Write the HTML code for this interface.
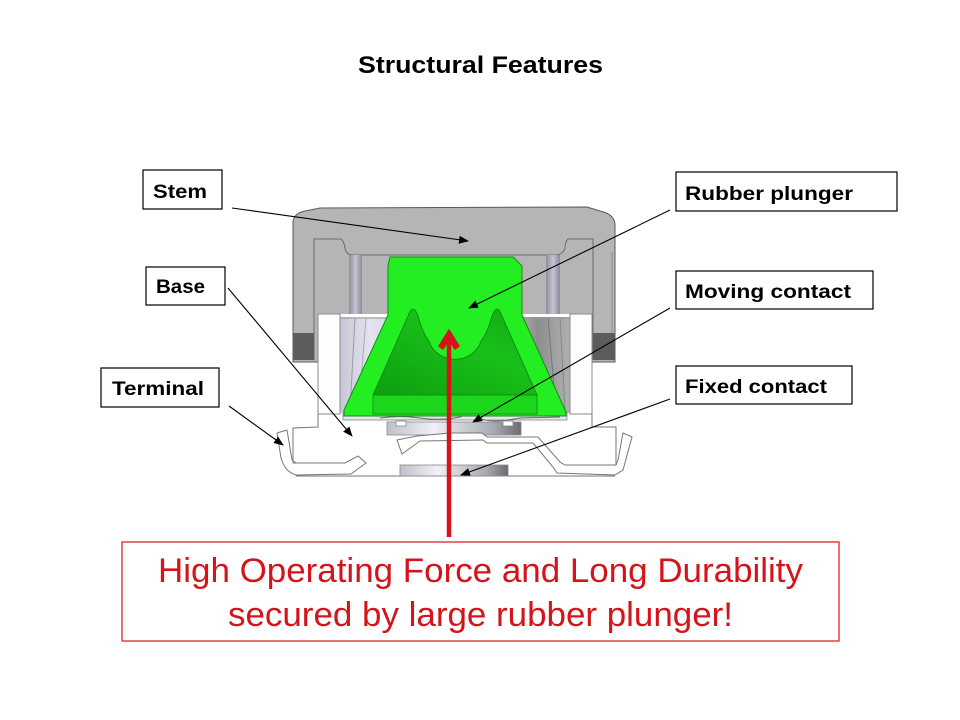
<!DOCTYPE html>
<html>
<head>
<meta charset="utf-8">
<style>
html,body{margin:0;padding:0;background:#fff;}
svg{display:block;}
text{font-family:"Liberation Sans",Arial,sans-serif;}
</style>
</head>
<body>
<svg width="960" height="720" viewBox="0 0 960 720" xmlns="http://www.w3.org/2000/svg">
<defs>
  <marker id="ah" markerWidth="10" markerHeight="8" refX="9" refY="4" orient="auto" markerUnits="userSpaceOnUse">
    <path d="M0,0 L10,4 L0,8 Z" fill="#000"/>
  </marker>
  <linearGradient id="post" x1="0" x2="1" y1="0" y2="0">
    <stop offset="0" stop-color="#8c8c9a"/>
    <stop offset="0.5" stop-color="#c4c4d2"/>
    <stop offset="1" stop-color="#8a8a98"/>
  </linearGradient>
  <linearGradient id="lav" x1="0" x2="1" y1="0" y2="0">
    <stop offset="0" stop-color="#c6c6d8"/>
    <stop offset="0.5" stop-color="#e4e4f0"/>
    <stop offset="1" stop-color="#d2d2e2"/>
  </linearGradient>
  <linearGradient id="rgray" x1="0" x2="1" y1="0" y2="0">
    <stop offset="0" stop-color="#c8c8c8"/>
    <stop offset="0.5" stop-color="#8e8e8e"/>
    <stop offset="1" stop-color="#b0b0b0"/>
  </linearGradient>
  <linearGradient id="cyl" x1="0" x2="1" y1="0" y2="0">
    <stop offset="0" stop-color="#c0c0cc"/>
    <stop offset="0.35" stop-color="#f0f0f6"/>
    <stop offset="0.8" stop-color="#a8a8b0"/>
    <stop offset="1" stop-color="#6a6a70"/>
  </linearGradient>
  <linearGradient id="cone" x1="0" x2="1" y1="1" y2="0">
    <stop offset="0" stop-color="#0f9e0f"/>
    <stop offset="0.6" stop-color="#18c018"/>
    <stop offset="1" stop-color="#12a812"/>
  </linearGradient>
</defs>

<!-- Title -->
<text x="358" y="73" font-size="24" font-weight="bold" fill="#000" textLength="245" lengthAdjust="spacingAndGlyphs">Structural Features</text>

<!-- Stem / cap gray area -->
<path d="M293,362 L293,222 Q294,213 305,211 L320,208 L587,207 L600,211 Q614,214 615,224 L615,362 Z" fill="#b5b5b5" stroke="#5a5a5a" stroke-width="1"/>
<!-- inner cap lines -->
<path d="M314,360 L314,239 L341,239 Q344,241 345,248 Q346,255 353,255 L555,255 Q563,255 565,248 Q565,242 568,239 L593,239 L593,360" fill="none" stroke="#6a6a6a" stroke-width="1"/>
<line x1="612" y1="252" x2="612" y2="360" stroke="#8a8a8a" stroke-width="1"/>
<!-- dark bands -->
<rect x="293" y="333" width="21" height="27" fill="#5c5c5c"/>
<rect x="593" y="333" width="22" height="27" fill="#5c5c5c"/>
<!-- posts -->
<rect x="349" y="255" width="13" height="62" fill="url(#post)"/>
<rect x="546" y="255" width="14" height="62" fill="url(#post)"/>

<!-- Base body -->
<rect x="318" y="314" width="274" height="106" fill="#fff"/>
<!-- inner gray areas -->
<path d="M340,317 L400,317 L345,413 L340,413 Z" fill="url(#lav)"/>
<path d="M505,317 L570,317 L570,413 L565,413 Z" fill="url(#rgray)"/>
<line x1="355" y1="318" x2="350" y2="410" stroke="#9a9aaa" stroke-width="1"/>
<line x1="366" y1="318" x2="361" y2="380" stroke="#a8a8b8" stroke-width="1"/>
<line x1="548" y1="318" x2="556" y2="410" stroke="#777" stroke-width="1"/>
<line x1="560" y1="318" x2="565" y2="410" stroke="#888" stroke-width="1"/>
<!-- base white walls -->
<path d="M318,314 L340,314 L340,414 L318,414 Z" fill="#fdfdfd" stroke="#8a8a8a" stroke-width="1"/>
<path d="M570,314 L592,314 L592,414 L570,414 Z" fill="#fdfdfd" stroke="#8a8a8a" stroke-width="1"/>
<line x1="340" y1="318" x2="570" y2="318" stroke="#999" stroke-width="1"/>

<!-- Base outline lower -->
<path d="M318,414 L318,427 L293,428 L293,463 L345,463 L358,456 L366,463 L351,474 L296,475" fill="none" stroke="#777" stroke-width="1"/>
<path d="M592,414 L592,427 L616,427 L616,465" fill="none" stroke="#777" stroke-width="1"/>
<line x1="296" y1="476" x2="615" y2="476" stroke="#777" stroke-width="1"/>
<!-- left terminal -->
<path d="M277,433 L287,430 L292,460 L296,463" fill="none" stroke="#777" stroke-width="1"/>
<path d="M277,433 L281,458 Q285,472 296,475" fill="none" stroke="#777" stroke-width="1"/>

<!-- plate under plunger -->
<rect x="343" y="413" width="224" height="7" fill="#e6e6ec" stroke="#888" stroke-width="0.8"/>
<path d="M380,418 Q400,415 420,418 T460,417 Q470,412 480,418 T520,418 L560,417" fill="none" stroke="#666" stroke-width="1"/>

<!-- moving contact holder -->
<rect x="387" y="422" width="134" height="13" fill="url(#cyl)" stroke="#888" stroke-width="0.8"/>
<rect x="396" y="421" width="10" height="5" fill="#fff" stroke="#888" stroke-width="0.8"/>
<rect x="503" y="421" width="10" height="5" fill="#fff" stroke="#888" stroke-width="0.8"/>

<!-- moving contact / terminal strip -->
<path d="M397,440 L417,436 L450,433 L482,433 L487,437 L538,437 L560,462 L565,465 L616,465 L618,460 L623,433 L632,437 L623,470 L615,475 L557,473 L553,467 L533,443 L487,443 L483,440 L420,441 L402,454 Z" fill="#fff" stroke="#777" stroke-width="1"/>

<!-- fixed contact -->
<rect x="400" y="465" width="108" height="11" fill="url(#cyl)" stroke="#888" stroke-width="0.8"/>

<!-- Green plunger -->
<path d="M390,257 L513,257 L522,266 L522,315 L566,412 L566,416 L344,416 L344,410 L388,315 L388,266 Z" fill="#22ee22" stroke="#129012" stroke-width="1"/>
<path d="M373,395 L408,316 Q413,302 418,316 Q423,334 429,341 A27,25 0 0 0 481,341 Q487,334 492,316 Q497,302 502,316 L537,395 Z" fill="url(#cone)" stroke="#0c800c" stroke-width="0.8"/>
<rect x="373" y="395" width="164" height="19" fill="#1bd61b" stroke="#0e8a0e" stroke-width="0.8"/>

<!-- Leader lines -->
<g stroke="#000" stroke-width="1.1" fill="none" marker-end="url(#ah)">
  <line x1="232" y1="208" x2="468" y2="241"/>
  <line x1="670" y1="210" x2="469" y2="308"/>
  <line x1="670" y1="308" x2="473" y2="422"/>
  <line x1="670" y1="399" x2="461" y2="475"/>
  <line x1="228" y1="288" x2="352" y2="436"/>
  <line x1="229" y1="406" x2="283" y2="445"/>
</g>

<!-- Red arrow -->
<line x1="449" y1="537" x2="449" y2="340" stroke="#d4141a" stroke-width="4.5"/>
<polygon points="449,330 459,346 455,349 449,340 443,349 439,346" fill="#d4141a" stroke="#d4141a" stroke-width="1.5" stroke-linejoin="round"/>

<!-- Label boxes -->
<g fill="#fff" stroke="#000" stroke-width="1.2">
  <rect x="143" y="170" width="79" height="39"/>
  <rect x="146" y="267" width="79" height="38"/>
  <rect x="101" y="368" width="118" height="39"/>
  <rect x="676" y="172" width="221" height="39"/>
  <rect x="676" y="271" width="197" height="38"/>
  <rect x="676" y="366" width="176" height="38"/>
</g>
<g font-size="19" font-weight="bold" fill="#000">
  <text x="153" y="198" textLength="54" lengthAdjust="spacingAndGlyphs">Stem</text>
  <text x="156" y="293" textLength="49" lengthAdjust="spacingAndGlyphs">Base</text>
  <text x="112" y="395" textLength="92" lengthAdjust="spacingAndGlyphs">Terminal</text>
  <text x="685" y="200" textLength="168" lengthAdjust="spacingAndGlyphs">Rubber plunger</text>
  <text x="685" y="298" textLength="166" lengthAdjust="spacingAndGlyphs">Moving contact</text>
  <text x="685" y="393" textLength="142" lengthAdjust="spacingAndGlyphs">Fixed contact</text>
</g>

<!-- Red box -->
<rect x="122" y="542" width="717" height="99" fill="#fff" stroke="#d4141a" stroke-width="1.2"/>
<g font-size="34" fill="#d4141a">
  <text x="158" y="582" textLength="645" lengthAdjust="spacingAndGlyphs">High Operating Force and Long Durability</text>
  <text x="228" y="626" textLength="505" lengthAdjust="spacingAndGlyphs">secured by large rubber plunger!</text>
</g>
</svg>
</body>
</html>
